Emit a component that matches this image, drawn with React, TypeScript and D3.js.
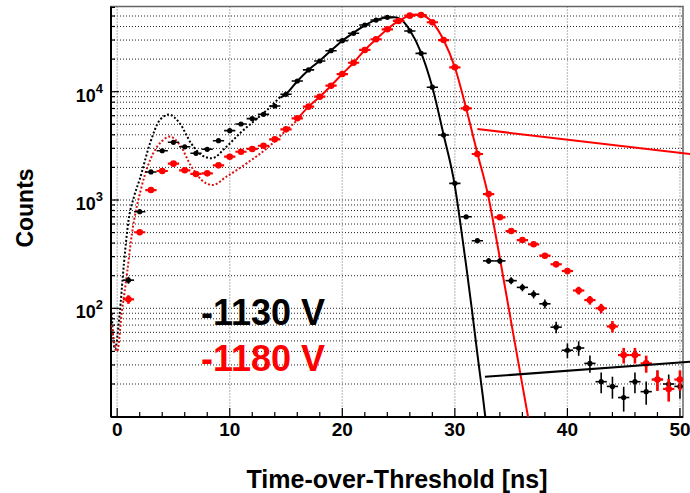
import React from "react";
import * as d3 from "d3";

// ---- data ----
const binCenters = [1,2,3,4,5,6,7,8,9,10,11,12,13,14,15,16,17,18,19,20,21,22,23,24,25,26,27,28,29,30,31,32,33,34,35,36,37,38,39,40,41,42,43,44,45,46,47,48,49,50];
const counts1130 = [182,780,1815,2850,3410,3100,2700,2940,3530,4370,5030,5640,6180,7380,9460,12560,15900,19200,23900,29600,34600,41300,45900,48600,45500,36400,22600,11000,3980,1425,700,421,274,274,180,156,135,110,67,41,43,31,21,19,15,21,17,22,20,19];
const counts1180 = [121,504,1236,1853,2165,1880,1740,1763,2090,2510,2790,2960,3170,3630,4490,5680,7280,8990,11360,14550,18500,24300,30500,37700,45000,50400,51100,43800,30000,16800,7030,2660,1135,692,517,427,390,306,255,221,146,119,100,68,37,37,31,22,18,22];

// main-peak fits (solid)
const fit1130X = [14.5,15,16,17,18,19,20,21,22,23,24,24.6,25.2,26,27,28,29,30,30.5,31,31.5,32,32.5,33];
const fit1130Y = [8800,9500,12500,15900,19300,24000,29600,35000,41000,46000,48500,48600,46500,37000,23000,11000,4000,1350,600,250,100,38,15,5.5];
const fit1180X = [16.2,17,18,19,20,21,22,23,24,25,26,26.6,27,28,29,30,31,32,33,33.5,34,35,36,36.5,37];
const fit1180Y = [5900,7280,8990,11360,14550,18500,24300,30500,37700,45000,50400,51500,51100,43800,30000,16800,7030,2700,1050,560,290,75,19.5,10,5];

// low-ToT fits (dotted)
const low1130X = [-0.5,-0.2,0.2,0.6,1.0,1.5,2.0,2.9,3.8,4.6,5.5,6.6,7.5,8.4,9.7,10.9,12.1,13.3,14.5];
const low1130Y = [90,42,85,260,640,1080,1550,3300,5500,6150,5200,3300,2600,2430,3100,4130,5290,6760,9000];
const low1180X = [-0.5,0.0,0.4,0.85,1.3,2.17,3.2,3.94,4.68,5.57,6.6,7.5,8.47,9.7,11.5,13.3,15.05,16.5];
const low1180Y = [70,40,90,200,480,1330,2700,3470,3850,3220,2030,1530,1375,1640,2180,3000,4430,6100];

// pointer lines (data units)
const pointerRedX = [32.0, 50.9];
const pointerRedY = [4520, 2660];
const pointerBlackX = [32.67, 50.9];
const pointerBlackY = [23.3, 32.1];

const xMajorTicks = [0, 10, 20, 30, 40, 50];
const yLabelExponents = [2, 3, 4];
const legendLabels = ["-1130 V", "-1180 V"];
const seriesColors = ["#000000", "#ff0000"];
const xTitle = "Time-over-Threshold [ns]";
const yTitle = "Counts";

const W = 690, H = 493;
const L = 111, R = 683, T = 6.5, B = 417;

export default function App() {
  const x = d3.scaleLinear().domain([-0.55, 50.27]).range([L, R]);
  const y = d3.scaleLog().domain([9.916, 61200]).range([B, T]);

  const yTicks = y.ticks().filter((v) => y(v) > T + 1 && y(v) < B - 1);
  const xMinor = d3.range(0, 51, 2);

  const line = d3
    .line<[number, number]>()
    .x((d) => x(d[0]))
    .y((d) => y(d[1]))
    .curve(d3.curveMonotoneX);
  const zip = (a: number[], b: number[]) => a.map((v, i) => [v, b[i]] as [number, number]);

  const series = [
    { counts: counts1130, color: seriesColors[0], r: 2.6, bw: 1.6, hw: 1.6 },
    { counts: counts1180, color: seriesColors[1], r: 3.3, bw: 2.6, hw: 2.2 },
  ];

  const isMajorY = (v: number) => Math.abs(Math.log10(v) - Math.round(Math.log10(v))) < 1e-6;

  return (
    <svg
      width={W}
      height={H}
      style={{ position: "absolute", left: 0, top: 0, background: "#fff" }}
      fontFamily="'Liberation Sans', Arial, Helvetica, sans-serif"
      fontWeight="bold"
    >
      <defs>
        <clipPath id="frame">
          <rect x={L} y={T} width={R - L} height={B - T} />
        </clipPath>
      </defs>
      <rect x={0} y={0} width={W} height={H} fill="#fff" />

      {/* grid */}
      {yTicks.map((v, i) => (
        <line key={"gy" + i} x1={L} x2={R} y1={y(v)} y2={y(v)} stroke="#222" strokeWidth={1} strokeDasharray="1 2" />
      ))}
      {xMajorTicks.map((v, i) => (
        <line key={"gx" + i} x1={x(v)} x2={x(v)} y1={T} y2={B} stroke="#8a8a8a" strokeWidth={1.3} strokeDasharray="1 2" />
      ))}

      {/* frame */}
      <rect x={L} y={T} width={R - L} height={B - T} fill="none" stroke="#666" strokeWidth={1.5} />
      <line x1={L} x2={L} y1={T} y2={B} stroke="#000" strokeWidth={2} />
      <line x1={L} x2={R} y1={B} y2={B} stroke="#000" strokeWidth={2} />

      {/* y ticks */}
      {y.ticks().filter((v) => y(v) >= T && y(v) <= B).map((v, i) => (
        <line key={"ty" + i} x1={L} x2={L + (isMajorY(v) ? 8 : 4)} y1={y(v)} y2={y(v)} stroke="#000" strokeWidth={1.2} />
      ))}
      {/* x ticks */}
      {xMinor.map((v, i) => (
        <line key={"tx" + i} x1={x(v)} x2={x(v)} y1={B} y2={B - (v % 10 === 0 ? 9 : 5)} stroke="#000" strokeWidth={1.2} />
      ))}

      {/* tick labels */}
      {yLabelExponents.map((e) => {
        const yy = y(Math.pow(10, e));
        return (
          <text key={"ly" + e} x={103} y={yy + 10} textAnchor="end" fontSize={18} fill="#000">
            10
            <tspan fontSize={13} dy={-9}>{e}</tspan>
          </text>
        );
      })}
      {xMajorTicks.map((v) => (
        <text key={"lx" + v} x={x(v)} y={436} textAnchor="middle" fontSize={19} fill="#000">
          {v}
        </text>
      ))}

      {/* axis titles */}
      <text x={397} y={488} textAnchor="middle" fontSize={25} fill="#000">{xTitle}</text>
      <text transform="translate(33,208) rotate(-90)" textAnchor="middle" fontSize={23} fill="#000">{yTitle}</text>

      <g clipPath="url(#frame)">
        {/* dotted low-ToT fits */}
        <path d={line(zip(low1130X, low1130Y)) || ""} fill="none" stroke="#000" strokeWidth={2} strokeDasharray="2 2" />
        <path d={line(zip(low1180X, low1180Y)) || ""} fill="none" stroke="#d81010" strokeWidth={2} strokeDasharray="2 2" />
        {/* solid fits */}
        <path d={line(zip(fit1130X, fit1130Y)) || ""} fill="none" stroke="#000" strokeWidth={2} />
        <path d={line(zip(fit1180X, fit1180Y)) || ""} fill="none" stroke="#ff0000" strokeWidth={2} />

        {/* data with error bars */}
        {series.map((s, si) => (
          <g key={"s" + si}>
            {s.counts.map((c, i) => {
              const bx = binCenters[i];
              const err = Math.sqrt(c);
              const cx = x(bx), cy = y(c);
              return (
                <g key={i}>
                  <line x1={x(bx - 0.5)} x2={x(bx + 0.5)} y1={cy} y2={cy} stroke={s.color} strokeWidth={s.hw} />
                  <line x1={cx} x2={cx} y1={y(c + err)} y2={y(Math.max(c - err, 1))} stroke={s.color} strokeWidth={s.bw} />
                  <circle cx={cx} cy={cy} r={s.r} fill={s.color} />
                </g>
              );
            })}
          </g>
        ))}
      </g>

      {/* pointer lines */}
      <line x1={x(pointerRedX[0])} y1={y(pointerRedY[0])} x2={x(pointerRedX[1])} y2={y(pointerRedY[1])} stroke="#ff0000" strokeWidth={2} />
      <line x1={x(pointerBlackX[0])} y1={y(pointerBlackY[0])} x2={x(pointerBlackX[1])} y2={y(pointerBlackY[1])} stroke="#000" strokeWidth={2} />

      {/* legend texts */}
      <text x={201} y={325} fontSize={36} fill={seriesColors[0]}>{legendLabels[0]}</text>
      <text x={201} y={371} fontSize={36} fill={seriesColors[1]}>{legendLabels[1]}</text>
    </svg>
  );
}
